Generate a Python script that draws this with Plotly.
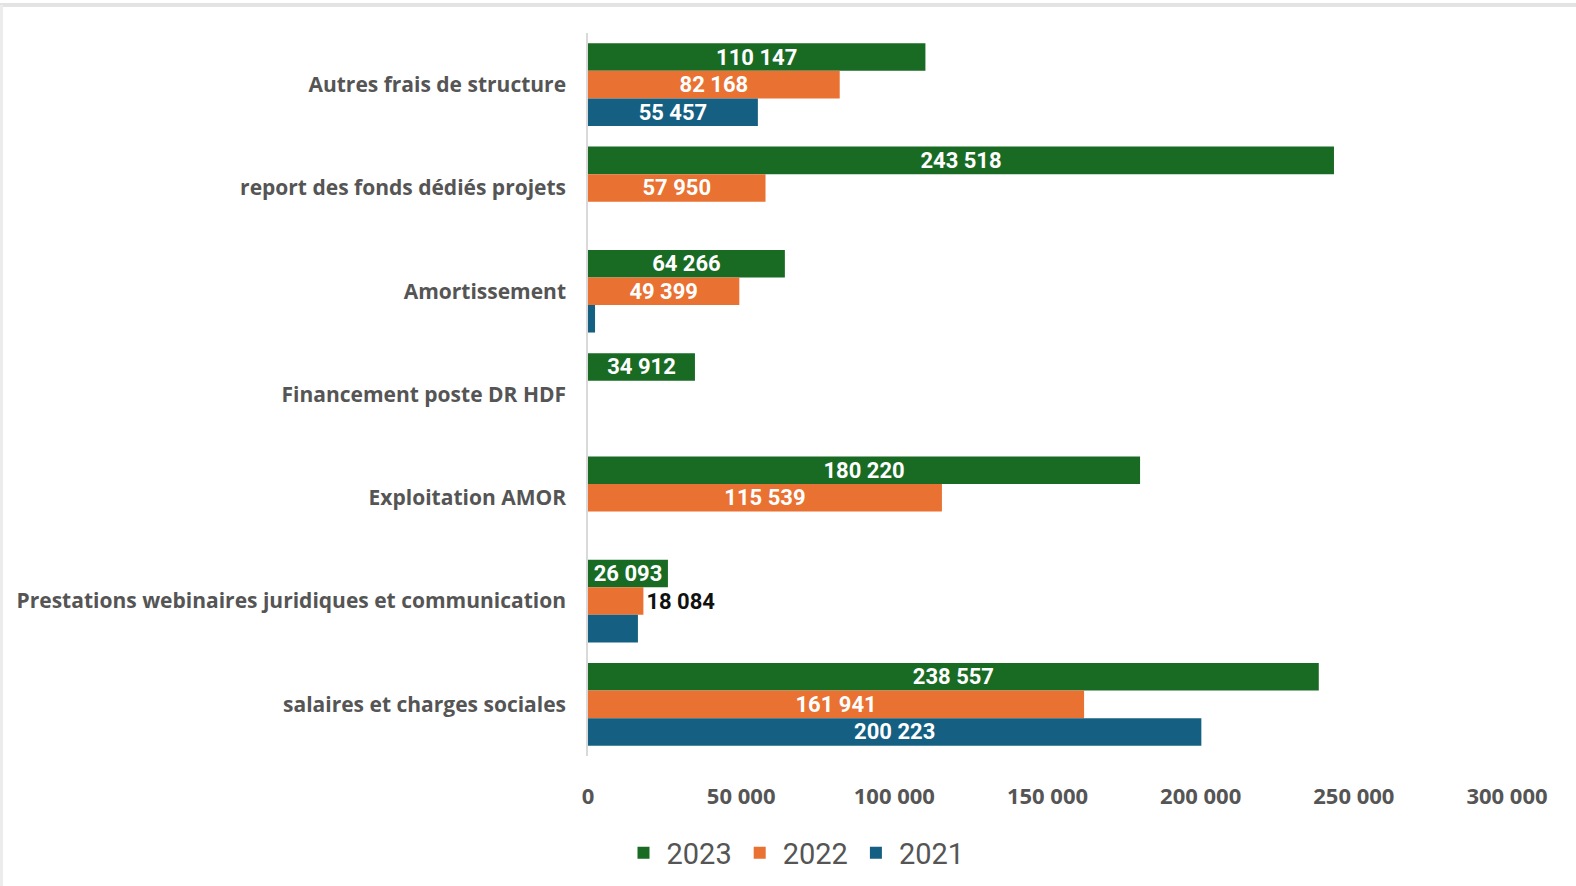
import plotly.graph_objects as go

categories = [
    "Autres frais de structure",
    "report des fonds dédiés projets",
    "Amortissement",
    "Financement poste DR HDF",
    "Exploitation AMOR",
    "Prestations webinaires juridiques et communication",
    "salaires et charges sociales",
]
v2023 = [110147, 243518, 64266, 34912, 180220, 26093, 238557]
v2022 = [82168, 57950, 49399, None, 115539, 18084, 161941]
v2021 = [55457, None, 2300, None, None, 16300, 200223]
# which labels are shown / where
show2021 = [True, False, False, False, False, False, True]
pos2022 = ["inside", "inside", "inside", "inside", "inside", "outside", "inside"]
tickvals = [0, 50000, 100000, 150000, 200000, 250000, 300000]
ticktext = ["0", "50 000", "100 000", "150 000", "200 000", "250 000", "300 000"]

colors = {"2023": "#196B24", "2022": "#E97132", "2021": "#156082"}

def fmt(v):
    return "" if v is None else f"{v:,}".replace(",", " ")

W, H = 1576, 886
FONT = "Open Sans, Roboto, sans-serif"
LFONT = "Roboto, sans-serif"

fig = go.Figure()
series = [
    ("2023", v2023, [fmt(v) for v in v2023], ["inside"] * 7),
    ("2022", v2022, [fmt(v) for v in v2022], pos2022),
    ("2021", v2021, [fmt(v) if s else "" for v, s in zip(v2021, show2021)], ["inside"] * 7),
]
for name, vals, txt, pos in series:
    fig.add_trace(go.Bar(
        name=name, y=categories, x=vals, orientation="h",
        marker=dict(color=colors[name], line=dict(width=0)),
        text=txt, textposition=pos, insidetextanchor="middle",
        constraintext="none", cliponaxis=False,
        insidetextfont=dict(color="white", size=22, family=LFONT, weight="bold"),
        outsidetextfont=dict(color="#111111", size=22, family=LFONT, weight="bold"),
        hoverinfo="x+y",
    ))

fig.update_layout(
    width=W, height=H, autosize=False,
    margin=dict(l=0, r=0, t=0, b=0, autoexpand=False),
    paper_bgcolor="white", plot_bgcolor="white",
    barmode="group", bargap=0.2, bargroupgap=0,
    separators=", ",
    xaxis=dict(
        domain=[588 / W, 1507 / W], range=[0, 300000], automargin=False,
        tickvals=tickvals, ticktext=ticktext,
        showgrid=False, zeroline=False, showline=False,
        ticks="outside", ticklen=21, tickcolor="rgba(0,0,0,0)",
        tickfont=dict(size=22, color="#555555", family=FONT, weight="bold"),
    ),
    yaxis=dict(
        domain=[1 - 756 / H, 1 - 33 / H], autorange="reversed", automargin=False,
        showgrid=False, zeroline=False,
        showline=True, linecolor="#d9d9d9", linewidth=1.5,
        ticks="outside", ticklen=16, tickcolor="rgba(0,0,0,0)",
        tickfont=dict(size=21, color="#555555", family=FONT, weight="bold"),
    ),
    legend=dict(
        orientation="h", x=795 / W, xanchor="center", y=1 - 853 / H, yanchor="middle",
        font=dict(size=29, color="#555555", family=LFONT),
        itemwidth=36, itemsizing="constant",
    ),
    showlegend=True,
    shapes=[
        dict(type="line", xref="paper", yref="paper", x0=0, x1=1, y0=1 - 5 / H, y1=1 - 5 / H,
             line=dict(color="#e3e3e3", width=4)),
        dict(type="line", xref="paper", yref="paper", x0=1.5 / W, x1=1.5 / W, y0=0, y1=1 - 5 / H,
             line=dict(color="#ececec", width=3)),
    ],
)

fig.write_html(
    "out.html",
    config={"responsive": False},
    post_script="document.body.style.margin='0';document.body.style.overflow='hidden';",
)
